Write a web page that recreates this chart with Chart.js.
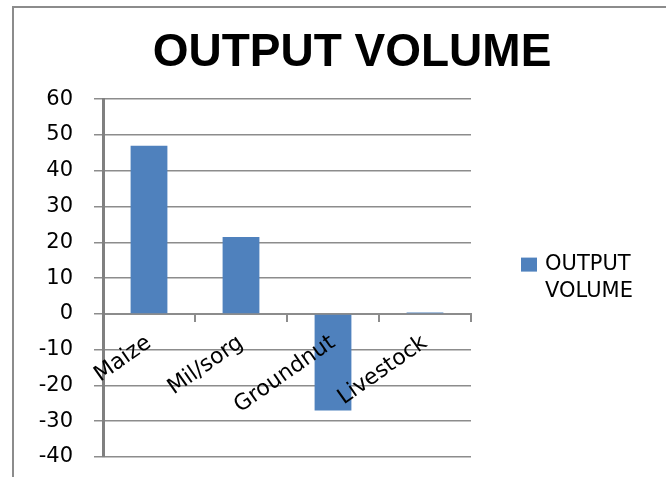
<!DOCTYPE html>
<html>
<head>
<meta charset="utf-8">
<title>Output volume</title>
<script src="https://cdn.jsdelivr.net/npm/chart.js@4.4.1/dist/chart.umd.min.js"></script>
<style>
    html, body { margin: 0; padding: 0; background: #fff; width: 666px; height: 477px; overflow: hidden; }
    #frame {
        position: absolute; left: 12px; top: 6px;
        width: 676px; height: 469px;
        border-left: 2px solid #8c8c8c; border-top: 2px solid #8c8c8c;
    }
</style>
</head>
<body>
<div id="frame"><canvas id="outputChart"></canvas></div>
<script>
    // data
    const seriesName = 'OUTPUT VOLUME';
    const categories = ['Maize', 'Mil/sorg', 'Groundnut', 'Livestock'];
    const outputVolume = [47, 21.5, -27, 0.4];
    const yMin = -40;
    const yMax = 60;
    const yStep = 10;

    const barColor = '#4F81BD';
    const gridColor = '#8c8c8c';

    // legend on the right, label wrapped on two lines like the original
    const sideLegend = {
        id: 'sideLegend',
        afterDraw(chart) {
            const { ctx, chartArea } = chart;
            const ds = chart.data.datasets[0];
            const lines = ds.label.split(' ');
            const lineH = 27;
            const midY = (chartArea.top + chartArea.bottom) / 2;
            const firstY = midY - lineH * (lines.length - 1) / 2;
            const x = chartArea.right + 50;

            ctx.save();
            ctx.fillStyle = ds.backgroundColor;
            ctx.fillRect(x, firstY - 7, 16, 14);
            ctx.fillStyle = '#000';
            ctx.font = '21px "DejaVu Sans"';
            ctx.textAlign = 'left';
            ctx.textBaseline = 'middle';
            lines.forEach((line, i) => {
                ctx.fillText(line, x + 24, firstY + i * lineH);
            });
            ctx.restore();
        }
    };

    const ctx = document.getElementById('outputChart').getContext('2d');
    new Chart(ctx, {
        type: 'bar',
        data: {
            labels: categories,
            datasets: [{
                label: seriesName,
                data: outputVolume,
                backgroundColor: barColor,
                barPercentage: 0.8,
                categoryPercentage: 0.5
            }]
        },
        options: {
            responsive: true,
            maintainAspectRatio: false,
            animation: false,
            layout: { padding: { top: 0, right: 0, bottom: 20, left: 0 } },
            plugins: {
                legend: { display: false },
                tooltip: { enabled: false },
                title: {
                    display: true,
                    text: seriesName,
                    color: '#000',
                    font: { family: '"Liberation Sans", Arial, sans-serif', size: 46, weight: 'bold' },
                    padding: { top: 18, bottom: 18 }
                }
            },
            scales: {
                x: {
                    position: { y: 0 },
                    offset: true,
                    grid: {
                        offset: true,
                        drawOnChartArea: false,
                        tickLength: 7,
                        color: gridColor,
                        lineWidth: 2
                    },
                    border: { color: gridColor, width: 2 },
                    ticks: {
                        z: 1, // names are written over the bars
                        autoSkip: false,
                        minRotation: 35,
                        maxRotation: 35,
                        padding: 9,
                        color: '#000',
                        font: { family: '"DejaVu Sans"', size: 22 }
                    },
                    // labels sit on the zero line, keep them from taking room at the bottom
                    afterFit(scale) { scale.height = 0; }
                },
                y: {
                    min: yMin,
                    max: yMax,
                    ticks: {
                        stepSize: yStep,
                        padding: 21,
                        color: '#000',
                        font: { family: '"DejaVu Sans"', size: 21 }
                    },
                    grid: { color: gridColor, lineWidth: 1.5, tickLength: 9 },
                    border: { color: '#808080', width: 3 },
                    afterFit(scale) {
                        scale.width = 89;
                        scale.paddingTop = 0;
                        scale.paddingBottom = 0;
                    }
                },
                // empty axis only to keep space for the legend
                side: {
                    type: 'linear',
                    position: 'right',
                    grid: { display: false },
                    border: { display: false },
                    ticks: { display: false },
                    afterFit(scale) { scale.width = 219; }
                }
            }
        },
        plugins: [sideLegend]
    });
</script>
</body>
</html>
